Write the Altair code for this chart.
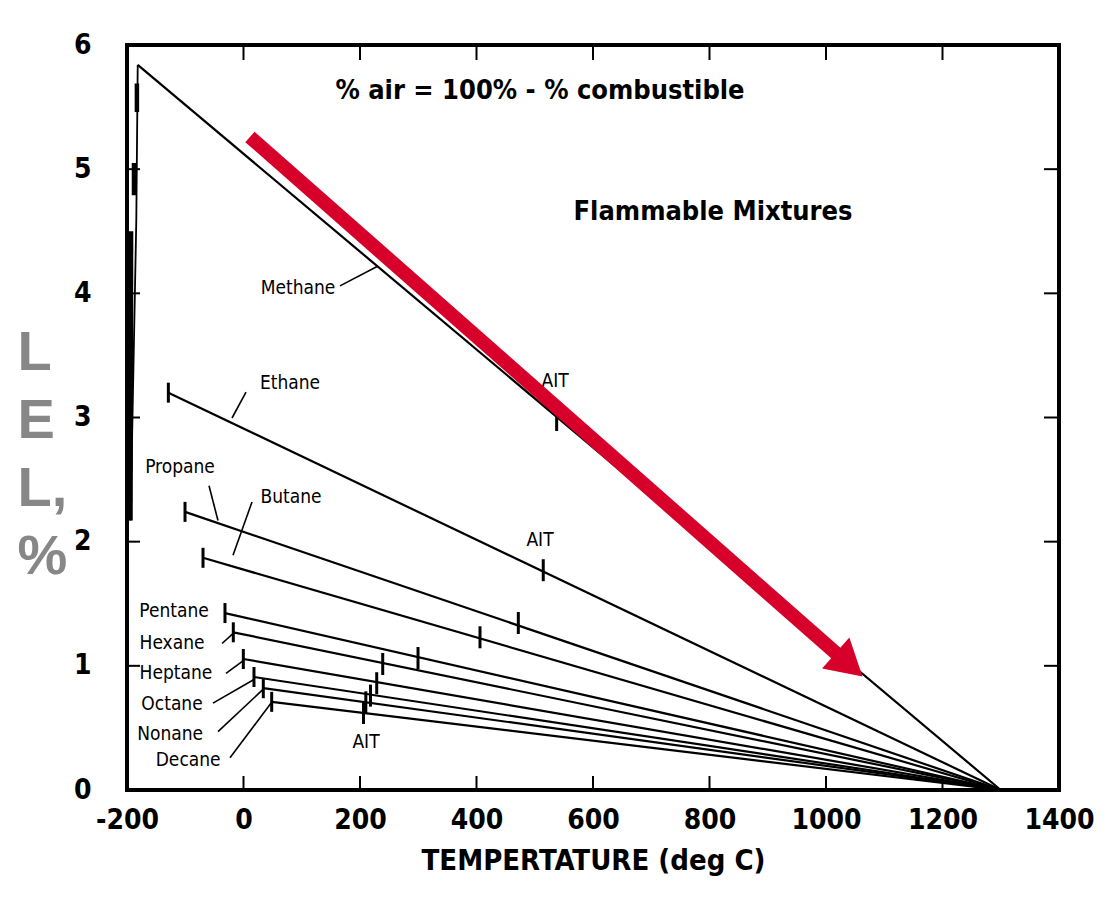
import altair as alt
import pandas as pd

# ---------------- data ----------------
series = ["Methane", "Ethane", "Propane", "Butane", "Pentane",
          "Hexane", "Heptane", "Octane", "Nonane", "Decane"]
start_T = [-181.6, -129.0, -100.4, -69.5, -31.8, -17.5, -0.3, 18.0, 34.0, 48.4]
start_LEL = [5.84, 3.20, 2.24, 1.87, 1.425, 1.27, 1.055, 0.91, 0.82, 0.71]
end_T = 1300.0   # common convergence point of all lines
end_LEL = 0.0
ait_T = [537.6, 514.6, 471.8, 406.0, 299.6, 239.0, 228.7, 218.0, 210.0, 206.0]
ait_LEL = [2.98, 1.77, 1.345, 1.23, 1.063, 1.015, 0.86, 0.76, 0.706, 0.62]

# methane low-temperature (near vertical) part
meth_thin_T = [-194.0, -184.0, -181.6]
meth_thin_L = [2.17, 4.60, 5.84]
meth_thick_T1 = [-194.0, -188.0, -183.0]
meth_thick_L1 = [2.17, 4.79, 5.46]
meth_thick_T2 = [-193.0, -188.0, -183.0]
meth_thick_L2 = [4.50, 5.05, 5.69]

# series labels and their leader lines
label_T = [93.6, 79.8, -109.0, 81.5, -119.3, -122.7, -116.0, -122.7, -126.0, -95.0]
label_LEL = [4.04, 3.28, 2.60, 2.36, 1.44, 1.18, 0.94, 0.69, 0.45, 0.24]
lead_T1 = [165.7, 4.3, -59.2, 14.6, None, -36.9, -30.0, -52.4, -43.8, -23.2]
lead_L1 = [4.06, 3.205, 2.45, 2.32, None, 1.18, 0.94, 0.70, 0.47, 0.26]
lead_T2 = [231.0, -19.7, -43.8, -18.0, None, -18.0, -0.9, 18.0, 33.5, 49.0]
lead_L2 = [4.22, 2.996, 2.17, 1.89, None, 1.26, 1.04, 0.89, 0.81, 0.71]

ait_label_T = [534.8, 509.0, 210.3]
ait_label_LEL = [3.29, 2.01, 0.387]

notes = ["% air = 100% - % combustible", "Flammable Mixtures"]
notes_T = [509.0, 806.0]
notes_LEL = [5.63, 4.655]

arrow_T = [11.0, 1032.0]
arrow_LEL = [5.26, 1.04]
arrow_head_angle = 131.4

x_tick_labels = [-200, 0, 200, 400, 600, 800, 1000, 1200, 1400]
x_inner_ticks = [0, 200, 400, 600, 800, 1000, 1200]
y_tick_labels = [0, 1, 2, 3, 4, 5, 6]
y_inner_ticks = [1, 2, 3, 4, 5]

# ---------------- tables ----------------
rows = []
for s, t0, l0 in zip(series, start_T, start_LEL):
    rows.append({"series": s, "T": t0, "LEL": l0, "o": 0})
    rows.append({"series": s, "T": end_T, "LEL": end_LEL, "o": 1})
lines_df = pd.DataFrame(rows)

meth_thin_df = pd.DataFrame({"T": meth_thin_T, "LEL": meth_thin_L,
                             "o": list(range(len(meth_thin_T)))})
meth_thick_df = pd.DataFrame({"T": meth_thick_T1, "LEL": meth_thick_L1,
                              "T2": meth_thick_T2, "LEL2": meth_thick_L2})

start_df = pd.DataFrame({"series": series[1:], "T": start_T[1:], "LEL": start_LEL[1:]})
ait_df = pd.DataFrame({"series": series, "T": ait_T, "LEL": ait_LEL})
label_df = pd.DataFrame({"series": series, "T": label_T, "LEL": label_LEL})
lead_df = pd.DataFrame({"T": lead_T1, "LEL": lead_L1, "T2": lead_T2, "LEL2": lead_L2}).dropna()
ait_lab_df = pd.DataFrame({"t": ["AIT"] * 3, "T": ait_label_T, "LEL": ait_label_LEL})
notes_df = pd.DataFrame({"t": notes, "T": notes_T, "LEL": notes_LEL})
arrow_df = pd.DataFrame({"T": arrow_T, "LEL": arrow_LEL, "o": [0, 1]})
head_df = pd.DataFrame({"T": [arrow_T[1]], "LEL": [arrow_LEL[1]]})
xt_df = pd.DataFrame({"T": x_inner_ticks})
yt_df = pd.DataFrame({"LEL": y_inner_ticks})

W, H = 932, 745
FONT = "DejaVu Sans Condensed"
xs = alt.Scale(domain=[-200, 1400], nice=False, zero=False)
ys = alt.Scale(domain=[0, 6], nice=False, zero=False)

x_axis = alt.Axis(values=x_tick_labels, labelExpr="'' + datum.value",
                  labelFont=FONT, labelFontSize=28,
                  labelFontWeight="bold", labelColor="black", labelPadding=16,
                  labelOverlap=False, labelFlush=False,
                  ticks=False, domain=False, grid=False,
                  title="TEMPERTATURE (deg C)", titleFont=FONT, titleFontSize=29,
                  titleFontWeight="bold", titleColor="black", titlePadding=12)
y_axis = alt.Axis(values=y_tick_labels, labelExpr="'' + datum.value",
                  labelFont=FONT, labelFontSize=28,
                  labelFontWeight="bold", labelColor="black", labelPadding=36,
                  labelOverlap=False, labelFlush=False,
                  ticks=False, domain=False, grid=False,
                  title=["L", "E", "L,", "%"], titleAngle=0,
                  titleFont="Liberation Sans", titleFontSize=56, titleFontWeight="bold",
                  titleColor="#878787", titleAlign="left", titleBaseline="top",
                  titleLineHeight=68, titleX=-110, titleY=280)

X = alt.X("T:Q", scale=xs, axis=x_axis)
Y = alt.Y("LEL:Q", scale=ys, axis=y_axis)
Xn = alt.X("T:Q", scale=xs)
Yn = alt.Y("LEL:Q", scale=ys)

main_lines = alt.Chart(lines_df).mark_line(color="black", strokeWidth=2.2).encode(
    x=X, y=Y, detail="series:N", order="o:Q")

meth_thin = alt.Chart(meth_thin_df).mark_line(color="black", strokeWidth=1.8).encode(
    x=Xn, y=Yn, order="o:Q")
meth_thick = alt.Chart(meth_thick_df).mark_rule(color="black", strokeWidth=4.5).encode(
    x=Xn, y=Yn, x2="T2:Q", y2="LEL2:Q")

start_ticks = alt.Chart(start_df).mark_tick(color="black", orient="vertical", opacity=1,
                                            size=20, thickness=3).encode(x=Xn, y=Yn)
ait_ticks = alt.Chart(ait_df).mark_tick(color="black", orient="vertical", opacity=1,
                                        size=22, thickness=3).encode(x=Xn, y=Yn)

labels = alt.Chart(label_df).mark_text(font=FONT, fontSize=19, color="black").encode(
    x=Xn, y=Yn, text="series:N")
leaders = alt.Chart(lead_df).mark_rule(color="black", strokeWidth=1.6).encode(
    x=Xn, y=Yn, x2="T2:Q", y2="LEL2:Q")
ait_labels = alt.Chart(ait_lab_df).mark_text(font=FONT, fontSize=19, color="black").encode(
    x=Xn, y=Yn, text="t:N")
note_text = alt.Chart(notes_df).mark_text(font=FONT, fontSize=27, fontWeight="bold",
                                          color="black").encode(x=Xn, y=Yn, text="t:N")

arrow = alt.Chart(arrow_df).mark_line(color="#d6002a", strokeWidth=14,
                                      strokeCap="butt").encode(x=Xn, y=Yn, order="o:Q")
head = alt.Chart(head_df).mark_point(shape="triangle", filled=True, opacity=1,
                                     color="#d6002a", size=1700,
                                     angle=arrow_head_angle).encode(x=Xn, y=Yn)

tick_b = alt.Chart(xt_df).mark_rule(color="black", strokeWidth=2).encode(
    x=Xn, y=alt.value(H), y2=alt.value(H - 14))
tick_t = alt.Chart(xt_df).mark_rule(color="black", strokeWidth=2).encode(
    x=Xn, y=alt.value(0), y2=alt.value(15))
tick_l = alt.Chart(yt_df).mark_rule(color="black", strokeWidth=2).encode(
    y=Yn, x=alt.value(0), x2=alt.value(13))
tick_r = alt.Chart(yt_df).mark_rule(color="black", strokeWidth=2).encode(
    y=Yn, x=alt.value(W), x2=alt.value(W - 15))

chart = alt.layer(
    main_lines, meth_thin, meth_thick, start_ticks, ait_ticks, leaders, labels,
    ait_labels, note_text, tick_b, tick_t, tick_l, tick_r, arrow, head
).properties(
    width=W, height=H,
    autosize=alt.AutoSizeParams(type="none"),
    padding={"left": 119, "top": 37, "right": 47, "bottom": 107},
    background="white",
).configure_view(stroke="black", strokeWidth=4)

chart.save("out.html", embed_options={"renderer": "svg", "actions": False})
